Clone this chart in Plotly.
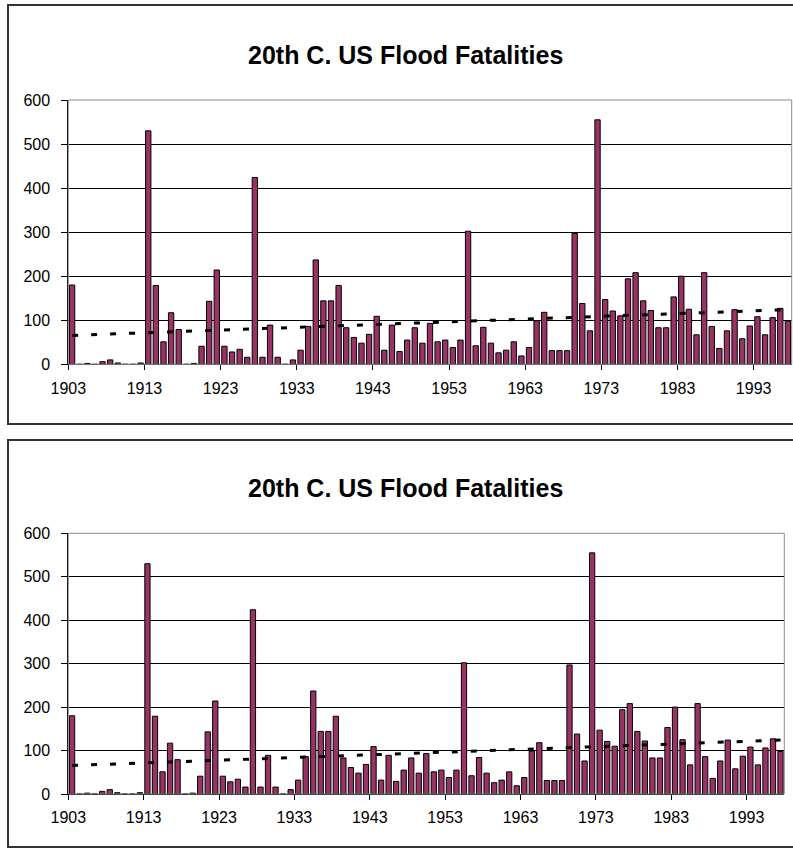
import numpy as np
import plotly.graph_objects as go
from plotly.subplots import make_subplots

# US flood fatalities per year, 1903-1997
years = list(range(1903, 1998))
fatalities = [
    180, 0, 2, 0, 6, 10, 3, 0, 0, 3,            # 1903-1912
    530, 179, 51, 117, 79, 0, 2, 41, 143, 214,  # 1913-1922
    41, 28, 34, 16, 424, 16, 89, 16, 0, 10,     # 1923-1932
    32, 86, 237, 144, 144, 179, 83, 61, 48, 68, # 1933-1942
    109, 32, 89, 29, 55, 83, 48, 93, 51, 55,    # 1943-1952
    38, 55, 302, 42, 84, 48, 26, 32, 51, 19,    # 1953-1962
    38, 99, 118, 31, 31, 31, 297, 138, 76, 555, # 1963-1972
    147, 121, 110, 194, 208, 144, 122, 83, 83, 153,  # 1973-1982
    200, 125, 67, 208, 86, 36, 76, 124, 58, 87,      # 1983-1992
    108, 67, 106, 127, 98,                           # 1993-1997
]
tick_years = years[::10]
title_text = "20th C. US Flood Fatalities"

# linear trendline, like the spreadsheet one
slope, intercept = np.polyfit(years, fatalities, 1)
trend = [slope * y + intercept for y in years]

W, H = 793, 852
FONT = "Liberation Sans, Arial, sans-serif"

fig = make_subplots(rows=2, cols=1)

######################################################################################
# two identical panels
for row in (1, 2):
    fig.add_trace(go.Bar(x=years, y=fatalities,
                         marker=dict(color="#993366", line=dict(color="black", width=1)),
                         showlegend=False), row=row, col=1)
    fig.add_trace(go.Scatter(x=years, y=trend, mode="lines",
                             line=dict(color="black", width=3, dash="6px,13px"),
                             showlegend=False), row=row, col=1)

# pixel geometry of each panel: (plot left, plot right, plot top, plot bottom, frame top, frame bottom, title y)
panels = [
    (68.3, 791.7, 100.0, 364.3, 5, 424, 55),
    (68.3, 784.3, 533.3, 794.0, 440, 847, 488),
]

for i, (pl, pr, pt, pb, ft, fb, ty) in enumerate(panels, start=1):
    xa = "xaxis" if i == 1 else "xaxis%d" % i
    ya = "yaxis" if i == 1 else "yaxis%d" % i
    fig.layout[xa].update(
        domain=[pl / W, pr / W], range=[years[0] - 0.5, years[-1] + 0.5], automargin=False,
        tickvals=[y - 0.5 for y in tick_years], ticktext=[str(y) for y in tick_years],
        showgrid=False, zeroline=False, showline=True, linecolor="black", linewidth=1,
        ticks="outside", ticklen=5, tickcolor="black", ticklabelstandoff=4,
        tickfont=dict(family=FONT, size=16, color="black"))
    fig.layout[ya].update(
        domain=[1 - pb / H, 1 - pt / H], range=[0, 600], dtick=100, automargin=False,
        showgrid=True, gridcolor="black", gridwidth=1, zeroline=False,
        showline=True, linecolor="black", linewidth=1,
        ticks="outside", ticklen=6, tickcolor="black", ticklabelstandoff=8,
        tickfont=dict(family=FONT, size=16, color="black"))

    # grey plot-area border (top / right)
    xr = "x" if i == 1 else "x%d" % i
    yr = "y" if i == 1 else "y%d" % i
    fig.add_shape(type="rect", xref=xr + " domain", yref=yr + " domain",
                  x0=0, x1=1, y0=0, y1=1, line=dict(color="#8c8c8c", width=1), layer="above")
    # chart frame
    fig.add_shape(type="rect", xref="paper", yref="paper",
                  x0=8 / W, x1=1.02, y0=1 - fb / H, y1=1 - ft / H,
                  line=dict(color="#333333", width=2), layer="below")
    fig.add_annotation(text="<b>" + title_text + "</b>", xref="paper", yref="paper",
                       x=405.5 / W, y=1 - ty / H, xanchor="center", yanchor="middle",
                       showarrow=False, font=dict(family=FONT, size=25, color="black"))

fig.update_layout(
    width=W, height=H, margin=dict(l=0, r=0, t=0, b=0),
    plot_bgcolor="white", paper_bgcolor="white",
    bargap=0.3, showlegend=False)

# page margin off so the figure sits at the window's corner
fig.write_html("out.html", config={"displayModeBar": False},
               post_script="document.body.style.margin = '0';")
